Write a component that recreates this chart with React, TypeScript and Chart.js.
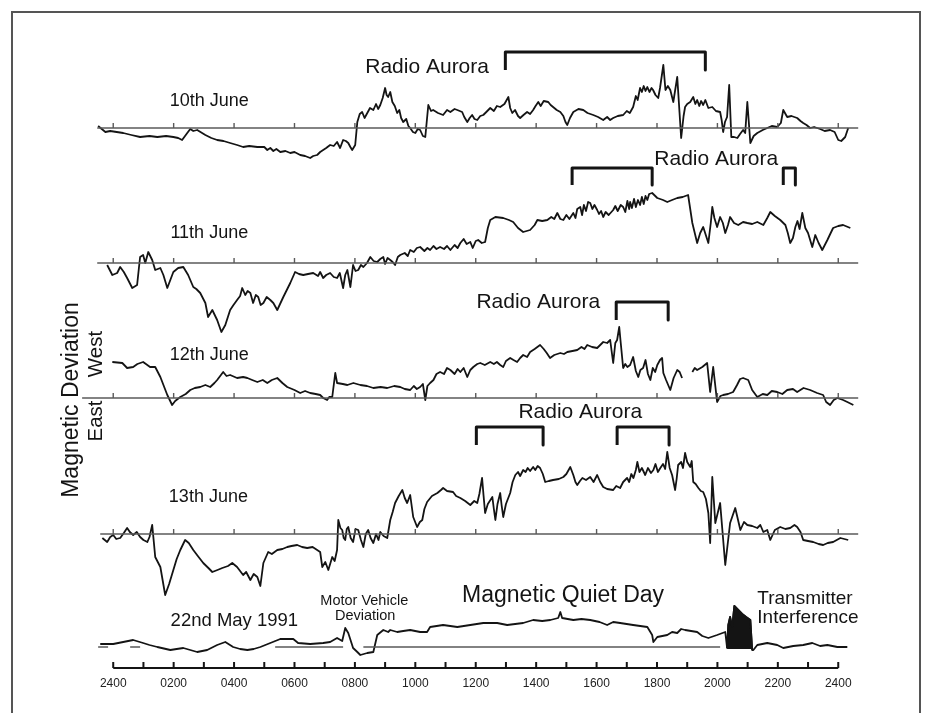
import React, { useEffect, useRef } from "react";
import { Chart, registerables } from "chart.js";

Chart.register(...registerables);

// ---- data: [hour, deviation] pairs (deviation in relative units above each day's baseline)
const june10: [number, number][] = [
  [-0.5, 2], [-0.26, -4], [-0.1, -3], [0.33, -5], [0.6, -7], [0.89, -9], [1.2, -8], [1.46, -9], [1.75, -8], [1.99, -9], [2.15, -10], [2.28, -12], [2.45, -5], [2.55, -1], [2.65, -3], [2.78, -2], [3.05, -7], [3.25, -10], [3.44, -12], [3.65, -13], [3.87, -15], [4.1, -17], [4.3, -19], [4.5, -18], [4.77, -19], [5.0, -19], [5.1, -22], [5.2, -20], [5.3, -23], [5.4, -21], [5.53, -24], [5.7, -23], [5.86, -25], [6.0, -24], [6.19, -27], [6.35, -28], [6.52, -30], [6.62, -28], [6.75, -27], [6.85, -24], [6.95, -22], [7.05, -20], [7.18, -17], [7.3, -18], [7.41, -14], [7.51, -20], [7.61, -12], [7.7, -13], [7.78, -15], [7.85, -19], [7.91, -22], [8.01, -17], [8.08, 6], [8.16, 14], [8.24, 16], [8.32, 10], [8.41, 15], [8.5, 20], [8.61, 18], [8.7, 24], [8.77, 19], [8.84, 23], [8.92, 30], [9.0, 40], [9.05, 33], [9.1, 31], [9.17, 36], [9.24, 26], [9.32, 22], [9.4, 15], [9.47, 18], [9.53, 10], [9.6, 6], [9.7, 9], [9.77, 2], [9.83, 0], [9.92, -4], [10.0, -5], [10.08, -1], [10.16, -2], [10.25, -8], [10.33, -9], [10.43, 23], [10.52, 17], [10.59, 18], [10.75, 15], [10.92, 13], [11.05, 18], [11.16, 16], [11.3, 19], [11.39, 18], [11.55, 16], [11.62, 11], [11.72, 6], [11.8, 10], [11.88, 13], [11.96, 9], [12.05, 8], [12.15, 12], [12.25, 13], [12.35, 16], [12.48, 20], [12.6, 17], [12.7, 22], [12.81, 21], [12.95, 24], [13.08, 31], [13.14, 20], [13.21, 15], [13.3, 18], [13.4, 12], [13.47, 10], [13.58, 13], [13.7, 16], [13.8, 14], [13.9, 18], [13.98, 22], [14.07, 26], [14.15, 22], [14.25, 27], [14.4, 26], [14.48, 23], [14.56, 21], [14.68, 18], [14.8, 16], [14.9, 12], [14.97, 6], [15.03, 3], [15.12, 10], [15.23, 16], [15.4, 19], [15.56, 18], [15.7, 15], [15.89, 13], [16.05, 11], [16.22, 8], [16.35, 11], [16.45, 8], [16.55, 10], [16.7, 12], [16.88, 13], [17.0, 17], [17.1, 15], [17.21, 21], [17.3, 32], [17.36, 28], [17.44, 40], [17.5, 36], [17.56, 42], [17.62, 37], [17.68, 41], [17.75, 36], [17.82, 40], [17.87, 38], [17.95, 33], [18.04, 30], [18.1, 40], [18.21, 63], [18.28, 38], [18.36, 42], [18.44, 38], [18.54, 26], [18.67, 51], [18.8, -10], [18.88, 12], [18.93, 21], [19.0, 24], [19.1, 26], [19.2, 31], [19.27, 24], [19.33, 28], [19.4, 22], [19.46, 27], [19.53, 23], [19.6, 28], [19.7, 20], [19.83, 21], [19.95, 17], [20.09, 16], [20.14, 8], [20.19, -4], [20.25, 6], [20.32, 11], [20.39, 43], [20.46, -9], [20.55, -9], [20.66, -10], [20.75, -6], [20.85, -2], [20.92, -5], [20.99, 26], [21.09, -15], [21.2, -8], [21.32, -5], [21.5, -2], [21.65, 0], [21.8, 2], [21.98, 1], [22.1, 5], [22.18, 18], [22.31, 11], [22.45, 12], [22.64, 10], [22.75, 7], [22.84, 5], [22.95, 3], [23.07, 0], [23.2, 1], [23.4, -1], [23.55, -3], [23.73, -2], [23.88, -4], [24.0, -12], [24.1, -13], [24.23, -9], [24.33, 0],
];

const june11: [number, number][] = [
  [-0.2, -2], [-0.03, -12], [0.13, -10], [0.23, -4], [0.35, -9], [0.46, -15], [0.63, -25], [0.79, -22], [0.85, -5], [0.89, 6], [0.99, 8], [1.06, 0], [1.16, 11], [1.29, 3], [1.39, -7], [1.56, -5], [1.66, -12], [1.79, -25], [1.89, -17], [1.99, -9], [2.15, -5], [2.32, -4], [2.48, -12], [2.65, -24], [2.75, -26], [2.88, -30], [3.05, -40], [3.14, -54], [3.28, -47], [3.44, -57], [3.58, -69], [3.71, -62], [3.87, -47], [3.98, -42], [4.1, -37], [4.2, -33], [4.27, -25], [4.37, -32], [4.45, -28], [4.54, -30], [4.63, -40], [4.72, -32], [4.8, -34], [4.88, -42], [4.97, -40], [5.08, -34], [5.2, -37], [5.3, -40], [5.43, -47], [5.63, -34], [5.86, -20], [6.02, -9], [6.15, -11], [6.29, -12], [6.45, -11], [6.62, -10], [6.78, -13], [6.85, -9], [6.95, -15], [7.05, -12], [7.18, -10], [7.3, -14], [7.41, -15], [7.5, -10], [7.61, -25], [7.68, -12], [7.75, -7], [7.85, -24], [7.94, -2], [8.02, -8], [8.11, -7], [8.2, -2], [8.28, -4], [8.4, 0], [8.51, 6], [8.62, 2], [8.74, 1], [8.84, 4], [8.94, 6], [9.0, -1], [9.08, 5], [9.17, 3], [9.25, 1], [9.33, -2], [9.42, 6], [9.5, 8], [9.65, 10], [9.75, 7], [9.83, 13], [9.95, 11], [10.05, 15], [10.16, 16], [10.3, 12], [10.4, 15], [10.49, 13], [10.6, 17], [10.7, 14], [10.82, 16], [10.95, 14], [11.05, 17], [11.16, 13], [11.3, 18], [11.4, 15], [11.49, 20], [11.6, 24], [11.7, 19], [11.82, 21], [11.9, 15], [12.0, 22], [12.08, 23], [12.2, 20], [12.31, 21], [12.4, 35], [12.48, 43], [12.65, 46], [12.91, 45], [13.1, 43], [13.24, 41], [13.4, 35], [13.57, 31], [13.8, 33], [13.95, 38], [14.04, 43], [14.2, 42], [14.37, 43], [14.5, 46], [14.6, 44], [14.7, 50], [14.8, 44], [14.9, 43], [15.0, 48], [15.1, 44], [15.23, 50], [15.3, 45], [15.36, 54], [15.46, 56], [15.52, 48], [15.58, 58], [15.65, 52], [15.72, 61], [15.79, 60], [15.86, 54], [15.93, 58], [16.02, 53], [16.08, 49], [16.15, 52], [16.22, 46], [16.3, 51], [16.4, 48], [16.55, 53], [16.62, 57], [16.7, 52], [16.8, 58], [16.88, 56], [16.95, 51], [17.02, 62], [17.08, 54], [17.11, 61], [17.17, 55], [17.24, 64], [17.3, 56], [17.37, 63], [17.44, 58], [17.5, 66], [17.56, 59], [17.62, 67], [17.68, 63], [17.74, 69], [17.84, 70], [18.01, 65], [18.2, 63], [18.34, 61], [18.5, 63], [18.67, 65], [18.85, 66], [19.03, 68], [19.17, 40], [19.33, 20], [19.43, 30], [19.53, 36], [19.7, 20], [19.78, 40], [19.83, 56], [19.9, 45], [19.99, 36], [20.09, 46], [20.18, 40], [20.26, 30], [20.35, 38], [20.42, 46], [20.55, 40], [20.69, 38], [20.85, 41], [20.99, 40], [21.15, 39], [21.32, 41], [21.52, 38], [21.65, 45], [21.75, 51], [21.9, 47], [22.08, 43], [22.25, 38], [22.33, 30], [22.41, 20], [22.5, 25], [22.58, 36], [22.65, 42], [22.72, 34], [22.81, 50], [22.91, 35], [23.0, 30], [23.14, 16], [23.24, 28], [23.35, 20], [23.47, 13], [23.64, 23], [23.75, 30], [23.83, 35], [24.0, 37], [24.16, 38], [24.4, 35],
];

const june12: [number, number | null][] = [
  [-0.03, 36], [0.3, 35], [0.46, 30], [0.66, 31], [0.8, 34], [0.99, 36], [1.22, 31], [1.39, 31], [1.56, 21], [1.79, 3], [1.95, -7], [2.05, -3], [2.22, 1], [2.4, 4], [2.55, 8], [2.7, 10], [2.88, 11], [3.05, 13], [3.21, 11], [3.35, 15], [3.44, 18], [3.64, 26], [3.75, 22], [3.87, 23], [4.1, 20], [4.3, 21], [4.44, 20], [4.6, 18], [4.77, 16], [4.95, 18], [5.1, 15], [5.25, 18], [5.43, 20], [5.6, 15], [5.76, 11], [6.0, 8], [6.19, 5], [6.35, 7], [6.52, 5], [6.7, 4], [6.85, 3], [6.95, 0], [7.08, -2], [7.15, 1], [7.25, 1], [7.35, 25], [7.41, 15], [7.6, 14], [7.75, 13], [7.95, 15], [8.18, 13], [8.4, 12], [8.61, 10], [8.85, 11], [9.07, 10], [9.3, 12], [9.5, 11], [9.65, 9], [9.83, 8], [9.95, 12], [10.05, 9], [10.16, 11], [10.25, 14], [10.33, -2], [10.4, 12], [10.49, 15], [10.6, 18], [10.7, 24], [10.82, 26], [10.95, 24], [11.05, 30], [11.16, 28], [11.3, 24], [11.4, 29], [11.49, 26], [11.6, 30], [11.72, 21], [11.82, 28], [11.92, 31], [12.05, 34], [12.15, 35], [12.3, 33], [12.48, 36], [12.6, 34], [12.7, 36], [12.81, 33], [12.91, 31], [13.0, 37], [13.14, 40], [13.25, 38], [13.37, 36], [13.47, 40], [13.57, 43], [13.7, 41], [13.8, 46], [13.95, 49], [14.13, 53], [14.25, 49], [14.35, 45], [14.46, 40], [14.6, 43], [14.8, 45], [14.92, 44], [15.03, 46], [15.2, 47], [15.36, 48], [15.5, 51], [15.6, 49], [15.69, 53], [15.85, 51], [16.02, 50], [16.12, 53], [16.22, 56], [16.35, 55], [16.45, 58], [16.55, 35], [16.62, 55], [16.68, 58], [16.75, 71], [16.8, 55], [16.88, 30], [16.95, 34], [17.02, 31], [17.11, 33], [17.21, 41], [17.3, 27], [17.38, 21], [17.45, 28], [17.54, 30], [17.62, 38], [17.7, 24], [17.78, 18], [17.86, 30], [17.94, 26], [18.01, 33], [18.1, 38], [18.17, 40], [18.21, 25], [18.3, 18], [18.44, 8], [18.55, 20], [18.67, 28], [18.75, 26], [18.83, 20], [19.0, null], [19.17, 26], [19.25, 30], [19.33, 28], [19.5, 31], [19.66, 35], [19.76, 6], [19.86, 31], [19.99, -4], [20.1, 2], [20.19, 3], [20.35, 4], [20.52, 6], [20.65, 13], [20.75, 19], [20.85, 20], [21.02, 18], [21.15, 8], [21.32, 1], [21.5, 4], [21.65, 3], [21.8, 7], [21.98, 6], [22.15, 4], [22.31, 8], [22.5, 9], [22.64, 6], [22.85, 10], [23.07, 8], [23.3, 5], [23.5, 3], [23.6, -4], [23.73, -7], [23.85, -2], [23.97, 0], [24.16, -2], [24.3, -4], [24.5, -7],
];

const june13: [number, number][] = [
  [-0.36, -4], [-0.2, -8], [-0.1, -3], [0, -1], [0.1, -5], [0.23, -4], [0.35, 1], [0.46, 6], [0.55, 2], [0.66, -1], [0.78, 2], [0.89, -3], [1.0, -6], [1.13, -8], [1.2, -3], [1.29, 9], [1.35, -10], [1.39, -23], [1.56, -33], [1.72, -61], [1.85, -50], [1.99, -36], [2.1, -25], [2.22, -16], [2.38, -6], [2.5, -9], [2.65, -16], [2.8, -22], [2.98, -29], [3.15, -34], [3.28, -38], [3.45, -36], [3.61, -34], [3.8, -32], [3.94, -29], [4.1, -33], [4.2, -37], [4.3, -41], [4.4, -38], [4.54, -46], [4.65, -40], [4.77, -43], [4.87, -52], [4.97, -29], [5.13, -18], [5.25, -20], [5.43, -16], [5.6, -15], [5.76, -13], [5.9, -12], [6.09, -11], [6.25, -13], [6.42, -14], [6.6, -13], [6.75, -16], [6.85, -18], [6.92, -33], [7.02, -28], [7.12, -36], [7.25, -23], [7.33, -27], [7.41, -16], [7.45, 14], [7.52, 6], [7.58, 4], [7.63, -4], [7.68, -6], [7.73, 5], [7.78, 7], [7.86, -4], [7.94, -8], [8.02, 5], [8.11, 4], [8.2, -6], [8.28, -13], [8.36, 0], [8.44, 4], [8.52, -4], [8.61, -9], [8.7, 0], [8.78, -6], [8.84, 2], [8.95, -2], [9.07, -4], [9.17, 14], [9.25, 22], [9.33, 31], [9.45, 38], [9.57, 44], [9.65, 36], [9.73, 31], [9.83, 39], [9.93, 17], [10.06, 7], [10.15, 12], [10.23, 14], [10.3, 25], [10.39, 32], [10.55, 38], [10.73, 41], [10.85, 44], [10.92, 46], [11.05, 43], [11.25, 42], [11.35, 38], [11.49, 36], [11.65, 33], [11.82, 29], [11.95, 33], [12.05, 31], [12.12, 40], [12.21, 56], [12.26, 38], [12.31, 21], [12.4, 30], [12.55, 37], [12.6, 25], [12.65, 14], [12.72, 30], [12.81, 41], [12.86, 28], [12.91, 17], [13.0, 30], [13.14, 41], [13.22, 52], [13.31, 59], [13.4, 62], [13.47, 58], [13.57, 64], [13.65, 62], [13.72, 66], [13.8, 63], [13.9, 67], [13.97, 64], [14.05, 68], [14.13, 66], [14.22, 60], [14.3, 52], [14.42, 53], [14.56, 54], [14.75, 55], [14.9, 57], [15.0, 60], [15.13, 67], [15.23, 59], [15.3, 52], [15.36, 49], [15.45, 53], [15.53, 56], [15.65, 54], [15.79, 57], [15.9, 52], [16.02, 59], [16.12, 52], [16.22, 47], [16.35, 45], [16.55, 44], [16.65, 48], [16.78, 46], [16.88, 52], [17.01, 56], [17.08, 52], [17.15, 60], [17.22, 56], [17.3, 64], [17.35, 72], [17.42, 62], [17.5, 66], [17.61, 59], [17.7, 66], [17.8, 61], [17.88, 64], [17.95, 70], [18.03, 62], [18.11, 66], [18.2, 70], [18.27, 65], [18.34, 82], [18.42, 66], [18.5, 59], [18.6, 44], [18.65, 55], [18.7, 69], [18.8, 72], [18.86, 66], [18.93, 81], [19.0, 72], [19.1, 67], [19.15, 73], [19.2, 52], [19.28, 50], [19.37, 46], [19.45, 43], [19.53, 42], [19.62, 35], [19.7, 21], [19.76, -9], [19.83, 57], [19.93, 11], [20.09, 31], [20.26, -31], [20.42, 11], [20.59, 26], [20.76, 4], [20.88, 12], [20.99, 9], [21.15, 8], [21.32, 6], [21.42, 9], [21.52, 2], [21.65, 4], [21.75, -6], [21.9, 4], [22.08, 7], [22.25, 5], [22.41, 6], [22.55, 9], [22.64, 7], [22.75, 2], [22.84, -6], [23.0, -7], [23.17, -8], [23.35, -10], [23.5, -11], [23.65, -9], [23.83, -8], [24.07, -4], [24.2, -5], [24.33, -6],
];

const may22: [number, number][] = [
  [-0.43, 3], [0, 3], [0.33, 5], [0.66, 7], [0.99, 4], [1.2, 2], [1.46, 0], [1.89, -3], [2.1, -2], [2.32, -1], [2.55, -3], [2.78, -5], [3.11, -3], [3.44, 2], [3.71, 5], [3.97, 0], [4.2, -2], [4.44, -3], [4.65, -2], [4.87, 0], [5.2, 4], [5.53, 8], [5.96, 8], [6.12, 4], [6.52, 3], [6.95, 4], [7.18, 5], [7.41, 9], [7.58, 6], [7.68, 19], [7.78, 14], [7.94, -1], [8.08, -5], [8.18, -8], [8.41, -6], [8.61, -5], [8.74, 12], [8.94, 17], [9.1, 15], [9.17, 17], [9.4, 15], [9.6, 16], [9.83, 17], [10.16, 15], [10.39, 15], [10.49, 20], [10.92, 22], [11.39, 20], [11.82, 22], [12.25, 24], [12.71, 24], [13.04, 22], [13.57, 24], [13.9, 27], [14.2, 26], [14.47, 27], [14.73, 29], [14.8, 35], [14.86, 29], [15.23, 27], [15.5, 28], [15.79, 27], [16.1, 25], [16.35, 22], [16.55, 25], [16.78, 24], [17.21, 22], [17.68, 20], [17.84, 12], [17.88, 5], [18.01, 10], [18.34, 12], [18.5, 15], [18.67, 14], [18.8, 18], [18.93, 17], [19.33, 15], [19.5, 11], [19.7, 9], [19.99, 12], [20.26, 15], [20.32, -1], [20.36, 22], [20.42, 30], [20.49, 20], [20.56, 41], [20.69, 37], [20.82, 33], [20.95, 30], [21.09, 27], [21.15, -3], [21.19, -3], [21.32, 2], [21.65, 4], [21.98, 2], [22.18, -1], [22.51, 1], [22.84, 2], [23.14, 4], [23.4, 1], [23.64, 2], [23.97, 0], [24.3, 0],
];

// transmitter interference block (upper edge) on 22nd May
const interference: [number, number][] = [
  [20.32, -1], [20.36, 22], [20.42, 30], [20.49, 20], [20.56, 41], [20.69, 37], [20.82, 33], [20.95, 30], [21.09, 27], [21.15, -3],
];

// radio aurora periods [start hour, end hour] for each day
const aurora10: [number, number][] = [[12.98, 19.6]];
const aurora11: [number, number][] = [[15.19, 17.84], [22.18, 22.58]];
const aurora12: [number, number][] = [[16.65, 18.37]];
const aurora13: [number, number][] = [[12.02, 14.23], [16.68, 18.4]];

// baseline extents (hours)
const baselineSpans: [number, number][][] = [
  [[-0.53, 24.66]],
  [[-0.53, 24.66]],
  [[-1.03, 24.66]],
  [[-0.43, 24.66]],
  [[-0.5, -0.17], [0.56, 0.89], [5.36, 7.61], [8.28, 20.09]],
];

const axisLabelHours = [0, 2, 4, 6, 8, 10, 12, 14, 16, 18, 20, 22, 24];
const axisLabels = ["2400", "0200", "0400", "0600", "0800", "1000", "1200", "1400", "1600", "1800", "2000", "2200", "2400"];
const axisTickHours = Array.from({ length: 25 }, (_, i) => i);
const baselineTickHours = axisLabelHours;

// vertical layout: baseline level of each trace
const offsets = [540, 405, 270, 134, 21];

const FONT = '"Liberation Sans", Arial, Helvetica, sans-serif';
const INK = "#141414";

type Note = { text: string; h: number; trace: number; dev: number; size: number; align?: CanvasTextAlign };
const notes: Note[] = [
  { text: "Radio Aurora", h: 10.39, trace: 0, dev: 61, size: 21 },
  { text: "Radio Aurora", h: 19.96, trace: 1, dev: 104, size: 21 },
  { text: "Radio Aurora", h: 14.07, trace: 2, dev: 96, size: 21 },
  { text: "Radio Aurora", h: 15.46, trace: 3, dev: 122, size: 21 },
  { text: "10th June", h: 3.18, trace: 0, dev: 27, size: 18 },
  { text: "11th June", h: 3.18, trace: 1, dev: 30, size: 18 },
  { text: "12th June", h: 3.18, trace: 2, dev: 43, size: 18 },
  { text: "13th June", h: 3.15, trace: 3, dev: 37, size: 18 },
  { text: "22nd May 1991", h: 4.01, trace: 4, dev: 26, size: 18.5 },
  { text: "Motor Vehicle", h: 8.31, trace: 4, dev: 46, size: 14.5 },
  { text: "Deviation", h: 8.34, trace: 4, dev: 31, size: 14.5 },
  { text: "Magnetic Quiet Day", h: 14.89, trace: 4, dev: 51, size: 23 },
  { text: "Transmitter", h: 21.32, trace: 4, dev: 48, size: 19, align: "left" },
  { text: "Interference", h: 21.32, trace: 4, dev: 29, size: 19, align: "left" },
];

const pts = (arr: [number, number | null][], off: number) =>
  arr.map(([h, v]) => ({ x: h, y: v == null ? null : v + off }));

const tickPts = (hours: number[], off: number, len: number) =>
  hours.flatMap((h) => [
    { x: h, y: off },
    { x: h, y: off + len },
    { x: h, y: null },
  ]);

const bracketPts = (spans: [number, number][], off: number, bottom: number, top: number) =>
  spans.flatMap(([a, b]) => [
    { x: a, y: off + bottom },
    { x: a, y: off + top },
    { x: b, y: off + top },
    { x: b, y: off + bottom },
    { x: b, y: null },
  ]);

const textPlugin = {
  id: "textNotes",
  afterDatasetsDraw(chart: any) {
    const { ctx } = chart;
    const xs = chart.scales.x;
    const ys = chart.scales.y;
    ctx.save();
    ctx.fillStyle = INK;
    ctx.textBaseline = "middle";
    for (const n of notes) {
      ctx.font = `${n.size}px ${FONT}`;
      ctx.textAlign = n.align ?? "center";
      ctx.fillText(n.text, xs.getPixelForValue(n.h), ys.getPixelForValue(offsets[n.trace] + n.dev));
    }
    const vertical = (text: string, cx: number, cy: number, size: number) => {
      ctx.save();
      ctx.translate(cx, cy);
      ctx.rotate(-Math.PI / 2);
      ctx.font = `${size}px ${FONT}`;
      ctx.textAlign = "center";
      ctx.fillText(text, 0, 0);
      ctx.restore();
    };
    vertical("Magnetic Deviation", 72, 400, 23);
    vertical("West", 96, 354, 20.5);
    vertical("East", 96, 421, 20.5);
    ctx.restore();
  },
};

export default function App() {
  const ref = useRef<HTMLCanvasElement | null>(null);

  useEffect(() => {
    if (!ref.current) return;
    const base = (data: any[], extra: any = {}) => ({
      data,
      borderColor: INK,
      borderWidth: 1.8,
      pointRadius: 0,
      fill: false,
      clip: false,
      spanGaps: false,
      tension: 0,
      borderJoinStyle: "round",
      ...extra,
    });
    const gray = { borderColor: "#5a5a5a", borderWidth: 1.4 };
    const datasets: any[] = [];
    baselineSpans.forEach((spans, i) => {
      const d = spans.flatMap(([a, b]) => [
        { x: a, y: offsets[i] },
        { x: b, y: offsets[i] },
        { x: b, y: null },
      ]);
      datasets.push(base(d, gray));
      if (i < 4) datasets.push(base(tickPts(baselineTickHours, offsets[i], 5), gray));
    });
    // bottom time axis
    datasets.push(base([{ x: 0, y: 0 }, { x: 24, y: 0 }], { borderWidth: 2.2 }));
    datasets.push(base(tickPts(axisTickHours, 0, 6), { borderWidth: 2 }));
    // traces
    datasets.push(base(pts(june10, offsets[0])));
    datasets.push(base(pts(june11, offsets[1])));
    datasets.push(base(pts(june12, offsets[2])));
    datasets.push(base(pts(june13, offsets[3])));
    datasets.push(base(pts(may22, offsets[4])));
    datasets.push(
      base(pts(interference, offsets[4]), {
        fill: { value: offsets[4] - 2 },
        backgroundColor: INK,
      })
    );
    // radio aurora brackets
    datasets.push(base(bracketPts(aurora10, offsets[0], 58, 76), { borderWidth: 3 }));
    datasets.push(base(bracketPts(aurora11, offsets[1], 78, 95), { borderWidth: 3 }));
    datasets.push(base(bracketPts(aurora12, offsets[2], 78, 96), { borderWidth: 3 }));
    datasets.push(base(bracketPts(aurora13, offsets[3], 89, 107), { borderWidth: 3 }));

    const chart = new Chart(ref.current, {
      type: "line",
      data: { datasets },
      options: {
        responsive: false,
        animation: false,
        events: [],
        layout: { padding: { left: 80, right: 65.6, top: 20, bottom: 0 } },
        plugins: { legend: { display: false }, tooltip: { enabled: false } },
        scales: {
          x: {
            type: "linear",
            min: -1.1,
            max: 24.7,
            afterBuildTicks: (s: any) => {
              s.ticks = axisLabelHours.map((v) => ({ value: v }));
            },
            afterFit: (s: any) => {
              s.height = 45;
            },
            grid: { display: false, drawTicks: false },
            border: { display: false },
            ticks: {
              autoSkip: false,
              maxRotation: 0,
              padding: 8,
              color: "#222",
              font: { size: 12, family: FONT },
              callback: (v: any) => {
                const i = axisLabelHours.indexOf(Number(v));
                return i >= 0 ? axisLabels[i] : "";
              },
            },
          },
          y: { type: "linear", min: 0, max: 648, display: false },
        },
      } as any,
      plugins: [textPlugin],
    });
    return () => chart.destroy();
  }, []);

  return (
    <div style={{ position: "fixed", left: 0, top: 0, width: 925, height: 713, background: "#fff", overflow: "hidden" }}>
      <div
        style={{
          position: "absolute",
          left: 11,
          top: 11,
          width: 906,
          height: 760,
          borderTop: "2px solid #555",
          borderLeft: "2px solid #555",
          borderRight: "2px solid #555",
        }}
      />
      <canvas ref={ref} width={925} height={713} style={{ position: "absolute", left: 0, top: 0, width: 925, height: 713 }} />
    </div>
  );
}
